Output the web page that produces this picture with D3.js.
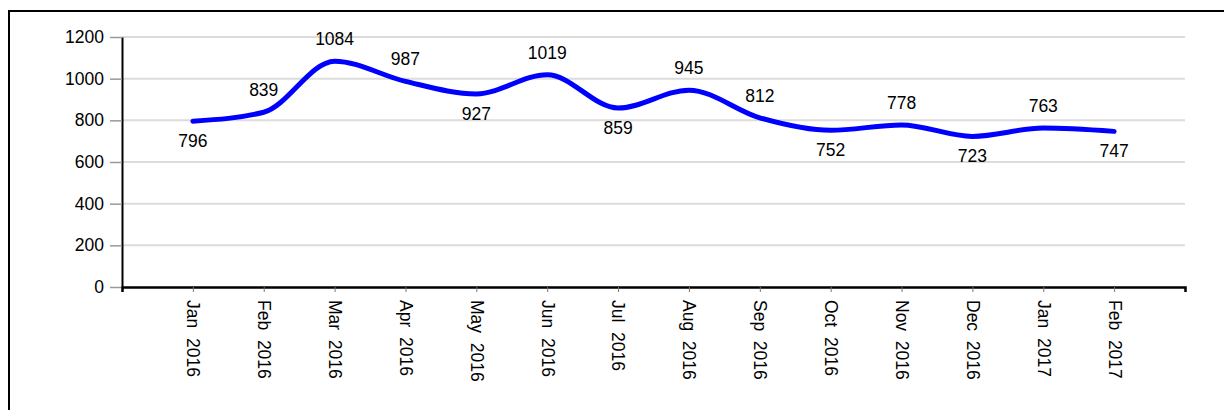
<!DOCTYPE html>
<html>
<head>
<meta charset="utf-8">
<script src="https://cdn.jsdelivr.net/npm/d3@7"></script>
<style>
  body { margin: 0; background: #fff; }
  svg { display: block; font-family: Arial, "Liberation Sans", sans-serif; }
</style>
</head>
<body>
<div id="chart"></div>
<script>
var months = ["Jan  2016", "Feb  2016", "Mar  2016", "Apr  2016", "May  2016", "Jun  2016", "Jul  2016",
              "Aug  2016", "Sep  2016", "Oct  2016", "Nov  2016", "Dec  2016", "Jan  2017", "Feb  2017"];
var counts = [796, 839, 1084, 987, 927, 1019, 859, 945, 812, 752, 778, 723, 763, 747];
var yTicks = [0, 200, 400, 600, 800, 1000, 1200];

var W = 1224, H = 410;
var margin = {top: 37, left: 122, right: 39, bottom: 123};
var width = W - margin.left - margin.right,
    height = H - margin.top - margin.bottom;
var fontSize = "17.5px";

var svg = d3.select("#chart")
    .append("svg")
        .attr("width", W)
        .attr("height", H);

// frame (only top and left edges fall inside the window)
svg.append("rect")
    .attr("x", 9).attr("y", 11)
    .attr("width", W + 20).attr("height", H + 20)
    .attr("fill", "none")
    .attr("stroke", "#000")
    .attr("stroke-width", 2);

var g = svg.append("g")
    .attr("transform", "translate(" + margin.left + "," + margin.top + ")");

var x = d3.scalePoint()
    .domain(months)
    .range([0, width])
    .padding(1);

var y = d3.scaleLinear()
    .domain([0, 1200])
    .range([height, 0]);

// grid
g.selectAll(".grid")
    .data(yTicks.filter(function(d) { return d > 0; }))
    .enter()
    .append("line")
        .attr("x1", 0).attr("x2", width)
        .attr("y1", function(d) { return y(d); })
        .attr("y2", function(d) { return y(d); })
        .attr("stroke", "#dcdcdc")
        .attr("stroke-width", 2);

// y axis
var yAxis = g.append("g")
    .call(d3.axisLeft(y).tickValues(yTicks).tickFormat(d3.format("d"))
        .tickSize(12).tickPadding(6).tickSizeOuter(0));
yAxis.select(".domain").attr("stroke", "#000").attr("stroke-width", 2);
yAxis.selectAll(".tick line").attr("stroke", "#999").attr("stroke-width", 1.5);
yAxis.selectAll("text")
    .style("font-size", fontSize)
    .style("font-family", "Arial, 'Liberation Sans', sans-serif")
    .attr("fill", "#000");

// x axis
var xAxis = g.append("g")
    .attr("transform", "translate(0," + height + ")")
    .call(d3.axisBottom(x).tickSize(5).tickSizeOuter(5).tickPadding(9));
xAxis.select(".domain").attr("stroke", "#000").attr("stroke-width", 2.5);
xAxis.selectAll(".tick line").attr("stroke", "#777").attr("stroke-width", 1);
xAxis.selectAll("text")
    .style("font-size", fontSize)
    .style("font-family", "Arial, 'Liberation Sans', sans-serif")
    .style("white-space", "pre")
    .attr("fill", "#000")
    .attr("transform", "rotate(90)")
    .attr("x", 13)
    .attr("y", 0)
    .attr("dy", "0.35em")
    .attr("text-anchor", "start");

// line
var line = d3.line()
    .x(function(d, i) { return x(months[i]); })
    .y(function(d) { return y(d); })
    .curve(d3.curveMonotoneX);

g.append("path")
    .datum(counts)
    .attr("d", line)
    .attr("fill", "none")
    .attr("stroke", "#0000ff")
    .attr("stroke-width", 5)
    .attr("stroke-linecap", "round");

// value labels: below at local minima, above otherwise
function isLow(i) {
    var prev = i > 0 ? counts[i - 1] : Infinity;
    var next = i < counts.length - 1 ? counts[i + 1] : Infinity;
    return counts[i] < prev && counts[i] < next;
}

g.selectAll(".val")
    .data(counts)
    .enter()
    .append("text")
        .attr("x", function(d, i) { return x(months[i]); })
        .attr("y", function(d, i) { return y(d) + (isLow(i) ? 26 : -16); })
        .attr("text-anchor", "middle")
        .style("font-size", fontSize)
        .attr("fill", "#000")
        .text(function(d) { return d; });
</script>
</body>
</html>
